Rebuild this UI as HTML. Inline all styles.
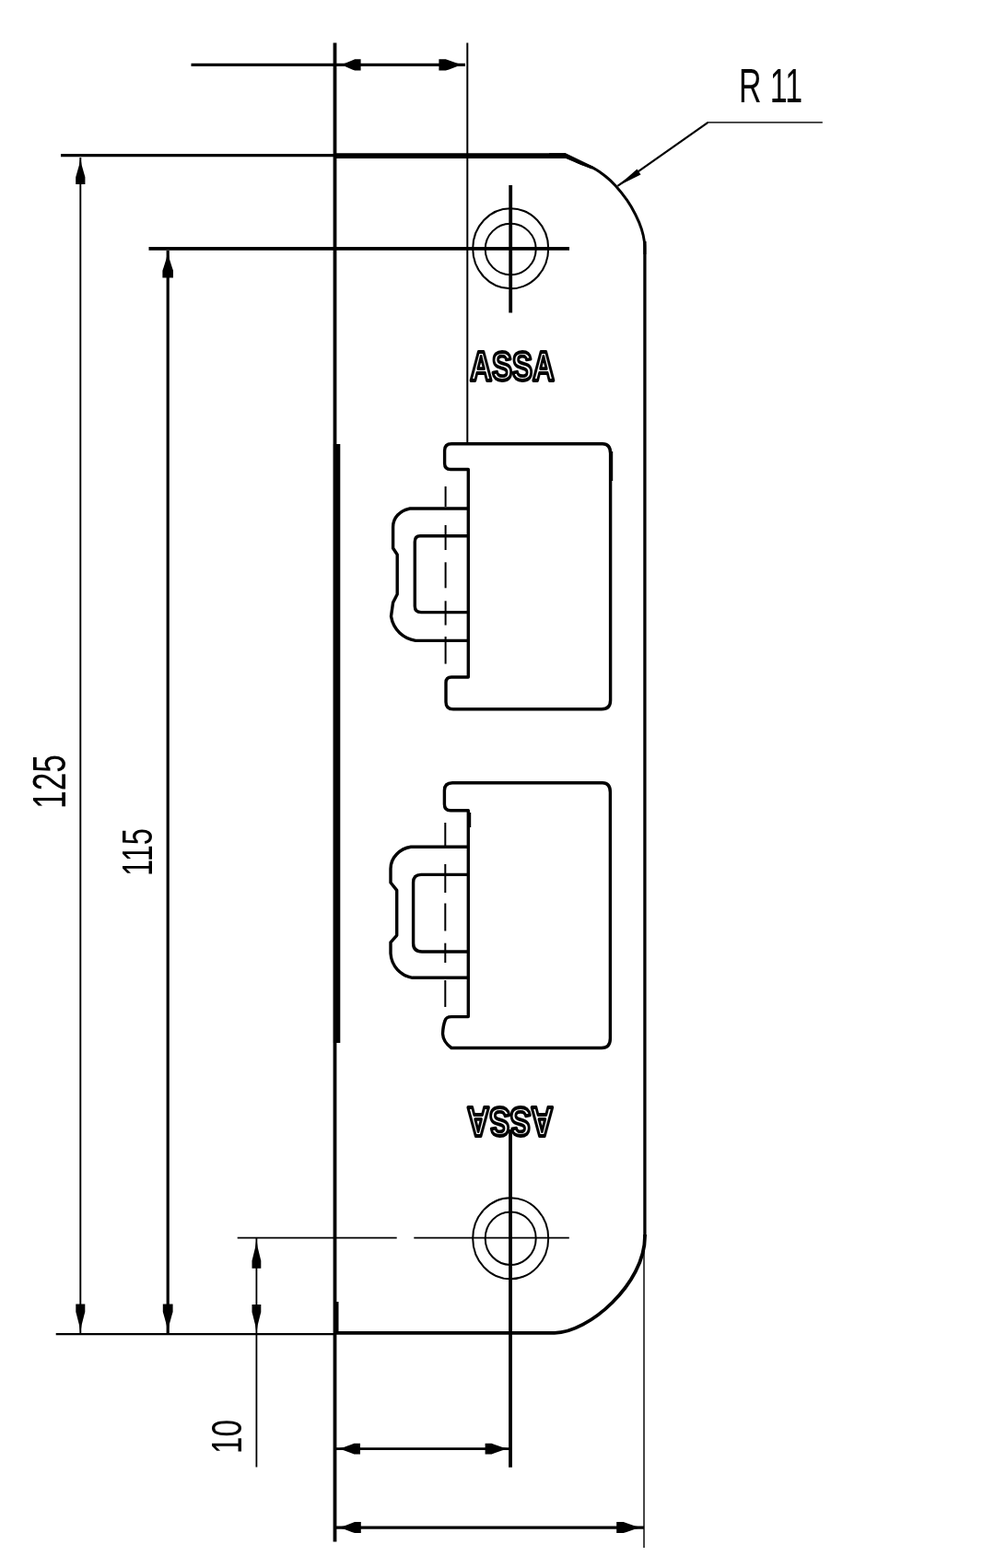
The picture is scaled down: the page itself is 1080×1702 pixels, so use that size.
<!DOCTYPE html>
<html>
<head>
<meta charset="utf-8">
<title>Strike plate drawing</title>
<style>
html,body{margin:0;padding:0;background:#fff;}
body{width:1080px;height:1702px;overflow:hidden;font-family:"Liberation Sans",sans-serif;}
svg{display:block;}
</style>
</head>
<body>
<svg width="1080" height="1702" viewBox="0 0 1080 1702">
<defs><filter id="soft" x="0" y="0" width="1080" height="1702" filterUnits="userSpaceOnUse"><feGaussianBlur stdDeviation="0.55"/></filter></defs>
<rect x="0" y="0" width="1080" height="1702" fill="#ffffff"/>
<g filter="url(#soft)">
<g fill="none" stroke="#000" stroke-linecap="butt" stroke-linejoin="round">

<!-- ===== extension / dimension lines ===== -->
<!-- top dimension -->
<line x1="207.5" y1="70.4" x2="505" y2="70.4" stroke-width="3.4"/>
<!-- plate left edge + extension (full height) -->
<line x1="363.5" y1="46.5" x2="363.5" y2="1673.6" stroke-width="3.8"/>
<!-- thick rebate on left edge -->
<line x1="365.6" y1="482" x2="365.6" y2="1132" stroke-width="7.4"/>
<!-- thin vertical from top dim down to slot -->
<line x1="507.3" y1="46.5" x2="507.3" y2="483" stroke-width="2"/>
<!-- 125 top extension -->
<line x1="66" y1="168.6" x2="364" y2="168.6" stroke-width="3.4"/>
<!-- 115 extension / top hole horizontal crosshair -->
<line x1="161.5" y1="269.9" x2="618" y2="269.9" stroke-width="3.6"/>
<!-- 125 dim line -->
<line x1="87.3" y1="171" x2="87.3" y2="1448" stroke-width="1.9"/>
<!-- 115 dim line -->
<line x1="182.2" y1="272" x2="182.2" y2="1448" stroke-width="3.2"/>
<!-- bottom extension -->
<line x1="60.7" y1="1448.1" x2="364" y2="1448.1" stroke-width="2.2"/>
<!-- 10 extension + bottom hole horizontal centre line -->
<line x1="257.7" y1="1343.7" x2="430.7" y2="1343.7" stroke-width="1.8"/>
<line x1="449.3" y1="1343.7" x2="617.8" y2="1343.7" stroke-width="1.8"/>
<!-- 10 dim line -->
<line x1="278.4" y1="1344" x2="278.4" y2="1592.5" stroke-width="1.8"/>
<!-- centre vertical bottom -->
<line x1="554" y1="1226" x2="554" y2="1592.8" stroke-width="3.8"/>
<!-- right extension -->
<line x1="699" y1="1342" x2="699" y2="1680" stroke-width="1.8" stroke="#333"/>
<!-- bottom dim lines -->
<line x1="363" y1="1572.6" x2="554" y2="1572.6" stroke-width="2.9"/>
<line x1="363" y1="1658.1" x2="699" y2="1658.1" stroke-width="3.1"/>
<!-- leader R11 -->
<polyline points="670.4,201.9 768.5,132.8" stroke-width="2.2"/>
<line x1="768" y1="132.9" x2="892.8" y2="132.9" stroke-width="1.8" stroke="#333"/>

<!-- ===== plate outline ===== -->
<line x1="363" y1="169.1" x2="614" y2="169.1" stroke-width="5.6"/>
<path d="M613.3,168.8 C615.9,170.1 623.7,174.3 628.9,176.6 C634.1,178.9 639.6,180.1 644.4,182.6 C649.1,185.1 653.5,188.4 657.4,191.5 C661.3,194.6 663.9,196.9 667.8,201.2 C671.7,205.5 677.0,212.1 680.7,217.4 C684.4,222.7 687.2,227.8 689.8,233.0 C692.4,238.2 694.7,243.5 696.3,248.5 C697.9,253.5 698.9,258.2 699.5,262.8 C700.1,267.4 699.8,273.8 699.9,276.0" stroke-width="2.9"/>
<line x1="699.9" y1="262" x2="699.9" y2="1342" stroke-width="3.3"/>
<path d="M596,171.8 L613.5,171.8 L642,183.5 L644,180.8 L614,166.2 L596,166.2 Z" fill="#000" stroke="none"/>
<path d="M700,1340 L700,1342 C700,1393.6 638.6,1446.8 602,1446.8 L363,1446.8" stroke-width="3.8"/>
<line x1="365.5" y1="1413" x2="365.5" y2="1448" stroke-width="4"/>

<!-- ===== holes ===== -->
<ellipse cx="554.2" cy="269.8" rx="41" ry="43.5" stroke-width="2"/>
<ellipse cx="554.2" cy="270.5" rx="27.5" ry="27.8" stroke-width="2"/>
<line x1="554.2" y1="201" x2="554.2" y2="339.5" stroke-width="3.8"/>
<ellipse cx="554.2" cy="1344.2" rx="41" ry="44" stroke-width="2"/>
<ellipse cx="554.2" cy="1344.2" rx="27.5" ry="28.8" stroke-width="2"/>

<!-- ===== slot 1 ===== -->
<g id="slot1" stroke-width="3.4">
<path d="M508.3,481.7 L654,481.7 Q662.6,481.7 662.6,492 L662.6,760 Q662.6,769.8 653,769.8 L492,769.8 Q484,769.8 484,762 L484,741 Q484,735 490,735 L508.3,735 L508.3,509.5 L489,509.5 Q482.6,509.5 482.6,503 L482.6,489 Q482.6,481.7 490,481.7 L508.3,481.7"/>
<!-- U outer -->
<path d="M508.3,552 L445,552 C434,554 426.6,562 426.6,572 L426.6,595 L431.2,602 L431.2,645 L426.6,654 L424.5,669 C427,684 438,693 451,695.4 L508.3,695.4"/>
<!-- U inner -->
<path d="M508.3,581.8 L456,581.8 Q450.3,581.8 450.3,588 L450.3,658 Q450.3,664.6 457,664.6 L508.3,664.6"/>
</g>
<g stroke-width="2">
<line x1="483.6" y1="528" x2="483.6" y2="550"/>
<line x1="483.6" y1="570" x2="483.6" y2="597"/>
<line x1="483.6" y1="610.3" x2="483.6" y2="638.3"/>
<line x1="483.6" y1="652.3" x2="483.6" y2="678.6"/>
<line x1="483.6" y1="691" x2="483.6" y2="720.6"/>
</g>

<line x1="664.2" y1="490" x2="664.2" y2="522" stroke-width="2"/>
<line x1="510" y1="882" x2="510" y2="898" stroke-width="2.4"/>
<!-- ===== slot 2 ===== -->
<g id="slot2" stroke-width="3.4">
<path d="M508.3,849.7 L654,849.7 Q662.4,849.7 662.4,860 L662.4,1127 Q662.4,1137.5 653,1137.5 L490,1137.5 Q481,1131 480.5,1122 Q481,1113 483,1108 Q484,1103.6 490,1103.6 L508.3,1103.6 L508.3,879.8 L489,879.8 Q482.4,879.8 482.4,873 L482.4,858 Q482.4,849.7 491,849.7 L508.3,849.7"/>
<path d="M508.3,919.3 L446,919.3 C434,921 424,931 424,943 L424,958 L430.7,966.4 L430.7,1015.3 L424,1022.8 L424,1035 C425,1049 435,1059 447.6,1061.3 L508.3,1061.3"/>
<path d="M508.3,949.4 L457,949.4 Q448.6,949.4 448.6,958 L448.6,1024 Q448.6,1033 458,1033 L508.3,1033"/>
</g>
<g stroke-width="2">
<line x1="483.3" y1="893" x2="483.3" y2="920"/>
<line x1="483.3" y1="938" x2="483.3" y2="969"/>
<line x1="483.3" y1="980.5" x2="483.3" y2="1010.5"/>
<line x1="483.3" y1="1023.7" x2="483.3" y2="1045"/>
<line x1="483.3" y1="1064" x2="483.3" y2="1093"/>
</g>
</g>

<!-- ===== arrowheads ===== -->
<g fill="#000" stroke="none">
<!-- top dim -->
<polygon points="367.0,70.4 374.4,72.1 382.3,75.4 385.2,76.6 391.6,76.6 391.6,64.2 385.2,64.2 382.3,65.4 374.4,68.7"/>
<polygon points="505.0,70.4 496.4,68.7 487.3,65.4 483.8,64.2 476.4,64.2 476.4,76.6 483.8,76.6 487.3,75.4 496.4,72.1"/>
<!-- 125 -->
<polygon points="87.3,170.5 85.9,179.3 83.2,188.8 82.2,192.3 82.2,200.0 92.4,200.0 92.4,192.3 91.4,188.8 88.7,179.3"/>
<polygon points="87.3,1447.6 88.7,1438.0 91.3,1427.8 92.3,1423.9 92.3,1415.6 82.3,1415.6 82.3,1423.9 83.3,1427.8 85.9,1438.0"/>
<!-- 115 -->
<polygon points="182.2,272.0 180.6,280.8 177.6,290.2 176.4,293.8 176.4,301.4 188.0,301.4 188.0,293.8 186.8,290.2 183.8,280.8"/>
<polygon points="182.2,1447.6 183.7,1438.0 186.5,1427.8 187.6,1423.9 187.6,1415.6 176.8,1415.6 176.8,1423.9 177.9,1427.8 180.7,1438.0"/>
<!-- 10 -->
<polygon points="278.4,1344.5 277.0,1354.2 274.5,1364.5 273.5,1368.4 273.5,1376.8 283.3,1376.8 283.3,1368.4 282.3,1364.5 279.8,1354.2"/>
<polygon points="278.4,1447.6 279.8,1438.1 282.3,1428.0 283.3,1424.2 283.3,1416.0 273.5,1416.0 273.5,1424.2 274.5,1428.0 277.0,1438.1"/>
<!-- bottom dims -->
<polygon points="365.5,1572.6 373.1,1574.3 381.3,1577.3 384.4,1578.5 391.0,1578.5 391.0,1566.7 384.4,1566.7 381.3,1567.9 373.1,1570.9"/>
<polygon points="553.5,1572.6 545.4,1570.9 536.8,1567.9 533.6,1566.7 526.6,1566.7 526.6,1578.5 533.6,1578.5 536.8,1577.3 545.4,1574.3"/>
<polygon points="365.5,1658.1 373.4,1659.8 381.8,1662.9 385.0,1664.1 391.8,1664.1 391.8,1652.1 385.0,1652.1 381.8,1653.3 373.4,1656.4"/>
<polygon points="698.0,1658.1 689.4,1656.4 680.1,1653.3 676.7,1652.1 669.2,1652.1 669.2,1664.1 676.7,1664.1 680.1,1662.9 689.4,1659.8"/>
<!-- leader -->
<polygon points="670.4,201.9 691.5,183.5 695.5,189.5"/>
</g>

<!-- ===== dimension text ===== -->
<g fill="#000" stroke="none" font-family="'Liberation Sans', sans-serif">
<!-- R 11 -->
<text x="802" y="111" font-size="52" textLength="69" lengthAdjust="spacingAndGlyphs" xml:space="preserve">R 11</text>
<!-- 125 (rotated) -->
<text transform="translate(71,878) rotate(-90)" x="0" y="0" font-size="50" textLength="59" lengthAdjust="spacingAndGlyphs">125</text>
<!-- 115 (rotated) -->
<text transform="translate(164.5,951) rotate(-90)" x="0" y="0" font-size="46" textLength="52" lengthAdjust="spacingAndGlyphs">115</text>
<!-- 10 (rotated) -->
<text transform="translate(261.8,1578) rotate(-90)" x="0" y="0" font-size="46" textLength="37" lengthAdjust="spacingAndGlyphs">10</text>
</g>

<!-- ===== ASSA logos ===== -->
<g fill="#fff" stroke="#000" stroke-width="3.8" stroke-linejoin="round" font-family="'Liberation Sans', sans-serif" font-weight="bold">
<text x="510.2" y="413.2" font-size="44.2" textLength="91.5" lengthAdjust="spacingAndGlyphs">ASSA</text>
<text transform="translate(600.4,1201.7) rotate(180)" x="0" y="0" font-size="44.2" textLength="93.3" lengthAdjust="spacingAndGlyphs">ASSA</text>
</g>
</g>
</svg>
</body>
</html>
